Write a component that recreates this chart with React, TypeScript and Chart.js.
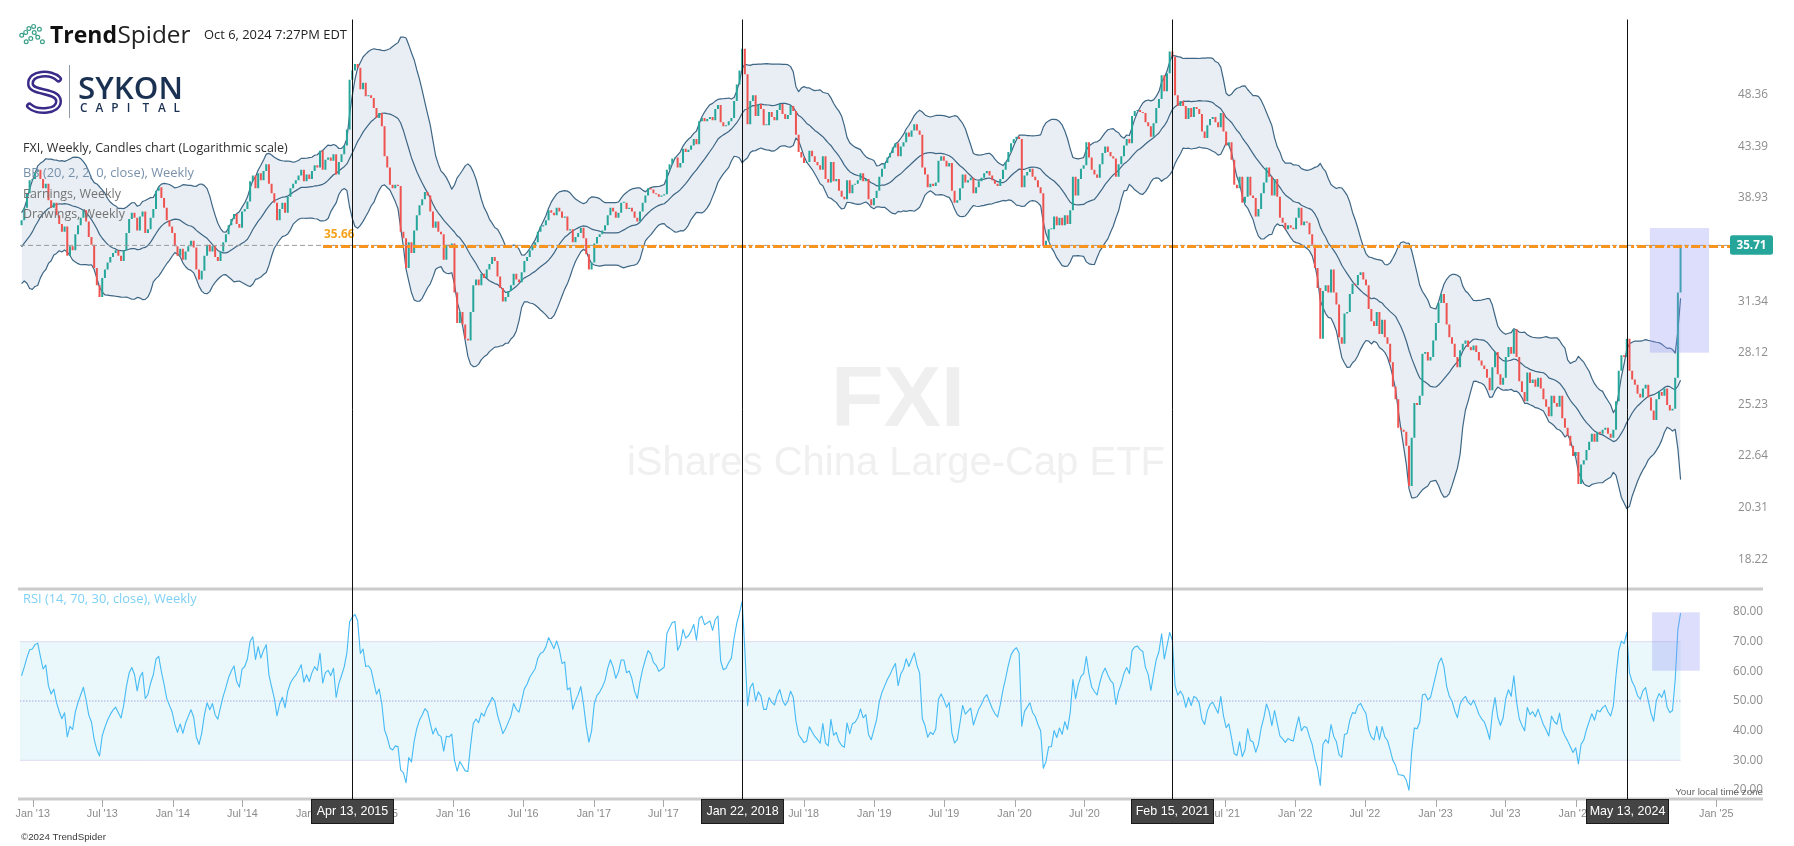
import { useEffect, useRef } from 'react';
import { Chart, registerables } from 'chart.js';

Chart.register(...registerables);

// ---------------- DATA (weekly closes of FXI) ----------------
// weeks before the first visible candle (Jun-Nov 2012), only used to seed Bollinger Bands and RSI
const warmupCloses = [33.5, 34.6, 33.8, 35.2, 34.1, 35.3, 34.0, 33.2, 34.5, 35.6, 34.4, 33.3, 34.6,
  33.4, 34.9, 36.0, 35.1, 36.6, 35.6, 37.0, 36.1, 37.3, 36.2, 35.6, 36.9, 37.2];

// first visible week: Mon Dec 3, 2012
const closes2012 = [37.6, 38.6, 39.8, 40.9, 41.0];
const closes2013 = [
  41.6, 41.8, 41.0, 40.2, 40.6, 39.2, 38.6, 39.0, 38.0, 37.3, 36.7, 37.1, 34.9,
  35.6, 35.3, 36.5, 37.2, 37.8, 38.4, 37.5, 36.3, 35.7, 34.0, 32.8, 32.0, 33.3,
  33.9, 34.4, 34.8, 35.1, 35.3, 34.9, 34.5, 35.3, 36.6, 37.7, 38.2, 37.8, 36.8,
  37.9, 38.3, 36.6, 36.9, 37.8, 38.5, 40.0, 40.3, 39.4, 38.6, 37.6, 37.1, 36.6];
const closes2014 = [
  35.6, 34.9, 35.4, 34.6, 35.2, 35.6, 36.0, 35.5, 33.9, 33.2, 33.8, 34.9, 35.7,
  35.2, 35.6, 34.8, 34.5, 35.2, 35.9, 36.5, 37.2, 37.7, 38.1, 37.3, 37.0, 38.3,
  38.5, 39.1, 40.8, 41.3, 40.2, 41.5, 40.9, 41.7, 42.3, 40.6, 39.8, 39.0, 37.6,
  38.5, 39.0, 38.2, 39.5, 40.2, 40.6, 40.9, 41.3, 41.8, 40.8, 41.4, 41.0, 41.7];
const closes2015 = [
  42.2, 42.0, 43.5, 41.8, 42.7, 42.9, 42.6, 43.2, 41.4, 42.5, 43.2, 44.0, 45.5,
  50.5, 51.5, 52.2, 51.8, 49.5, 50.2, 48.8, 48.9, 48.6, 47.6, 46.6, 47.1, 45.8,
  43.0, 42.0, 40.5, 40.2, 40.5, 40.4, 36.7, 36.2, 34.0, 35.9, 35.1, 36.8, 38.0,
  38.8, 39.3, 39.9, 39.6, 38.3, 37.0, 37.5, 36.7, 36.5, 34.6, 35.7, 35.6, 35.8];
const closes2016 = [
  32.3, 30.3, 31.0, 30.2, 29.3, 29.2, 31.0, 32.8, 33.2, 32.8, 33.6, 33.3, 33.9,
  34.3, 34.8, 34.5, 33.4, 32.6, 31.7, 32.0, 32.4, 32.8, 33.6, 33.2, 33.0, 33.7,
  34.5, 34.8, 35.3, 35.6, 35.9, 36.7, 37.1, 37.2, 37.6, 38.4, 38.2, 38.0, 38.6,
  38.3, 37.8, 37.9, 36.8, 36.9, 35.9, 36.3, 36.6, 37.0, 36.2, 35.0, 33.9, 34.4];
const closes2017 = [
  35.8, 36.3, 36.5, 36.8, 37.2, 38.0, 38.6, 38.3, 37.8, 38.2, 39.0, 39.0, 38.5,
  38.6, 38.3, 37.8, 37.5, 38.3, 39.0, 39.6, 40.2, 40.1, 39.8, 39.7, 39.5, 39.6,
  39.7, 41.8, 42.3, 42.8, 42.9, 42.0, 42.4, 43.7, 43.4, 43.6, 44.0, 44.6, 44.1,
  46.3, 46.6, 46.3, 46.5, 46.7, 46.4, 47.5, 47.9, 46.2, 45.8, 45.9, 46.3, 46.6];
const closes2018 = [
  48.3, 50.0, 51.5, 53.9, 51.1, 46.0, 48.3, 48.9, 46.8, 48.0, 47.5, 45.9, 45.9,
  47.2, 46.7, 46.4, 47.4, 48.0, 47.0, 46.5, 46.9, 47.8, 47.3, 45.0, 43.4, 42.9,
  42.4, 42.5, 43.5, 43.0, 42.5, 42.2, 41.8, 43.0, 41.0, 40.7, 42.5, 40.8, 41.0,
  40.0, 39.5, 39.3, 40.9, 39.8, 40.5, 40.6, 40.9, 41.5, 40.8, 41.0, 39.3, 38.8,
  39.4];
const closes2019 = [
  40.0, 41.2, 41.9, 42.4, 42.9, 43.3, 43.8, 44.2, 43.0, 43.9, 44.3, 45.2, 44.8,
  45.4, 46.0, 45.4, 45.0, 42.0, 41.4, 40.3, 40.6, 40.4, 40.7, 42.6, 43.0, 42.6,
  42.1, 42.4, 40.0, 39.0, 39.2, 40.2, 41.4, 40.7, 40.9, 41.1, 39.8, 40.3, 40.8,
  41.1, 41.5, 41.7, 41.3, 40.9, 40.6, 40.4, 41.0, 41.8, 42.5, 43.4, 44.2, 44.6];
const closes2020 = [
  44.8, 44.6, 40.3, 41.3, 41.6, 41.9, 41.2, 40.9, 40.3, 39.8, 35.6, 36.0, 36.9,
  36.9, 37.9, 37.2, 37.8, 37.2, 38.0, 37.3, 38.4, 41.2, 39.6, 41.0, 41.9, 42.2,
  44.3, 42.9, 41.8, 41.4, 41.1, 42.3, 43.3, 43.9, 43.4, 43.0, 42.8, 41.2, 42.3,
  43.0, 44.0, 44.6, 44.2, 46.8, 47.3, 47.4, 47.2, 47.1, 46.2, 45.8, 44.8, 46.1];
const closes2021 = [
  47.6, 48.5, 51.0, 49.3, 51.2, 53.6, 53.0, 48.9, 47.8, 48.3, 47.8, 46.5, 47.6,
  46.7, 47.7, 47.5, 47.0, 45.3, 44.7, 45.9, 46.5, 46.7, 46.2, 45.7, 47.1, 45.3,
  44.0, 44.3, 42.7, 40.5, 40.2, 41.2, 39.0, 39.5, 41.2, 39.6, 39.4, 37.9, 38.5,
  39.8, 40.7, 42.0, 41.2, 39.6, 41.0, 39.5, 37.8, 37.4, 36.9, 37.2, 37.0, 36.9];
const closes2022 = [
  37.8, 38.6, 37.2, 37.5, 37.4, 36.5, 35.7, 34.0, 32.6, 29.3, 32.4, 32.8, 32.3,
  33.9, 32.3, 31.5, 29.4, 29.0, 30.9, 31.0, 32.2, 32.9, 32.8, 33.5, 33.7, 33.2,
  32.8, 31.2, 30.4, 30.1, 31.0, 29.6, 30.5, 29.4, 29.0, 27.9, 26.5, 25.8, 24.3,
  24.2, 24.1, 23.4, 21.5, 23.8, 25.6, 25.5, 26.0, 28.4, 28.5, 28.0, 28.2, 29.2];
const closes2023 = [
  30.3, 31.6, 32.2, 31.6, 30.2, 29.4, 29.0, 28.2, 27.6, 28.6, 29.0, 29.2, 28.8,
  28.6, 28.9, 28.5, 28.0, 27.7, 27.5, 27.0, 26.3, 27.6, 28.5, 27.2, 26.6, 27.0,
  28.2, 28.8, 28.4, 29.9, 28.2, 26.8, 26.2, 25.7, 27.3, 26.7, 26.9, 26.5, 27.0,
  26.4, 25.8, 25.4, 24.9, 26.0, 25.6, 25.4, 26.0, 24.8, 24.3, 23.9, 23.4, 22.9];
const closes2024 = [
  23.1, 21.6, 22.5, 22.7, 23.2, 23.6, 24.0, 23.6, 24.1, 24.0, 24.2, 24.3, 24.0,
  23.8, 24.2, 25.7, 27.4, 28.3, 28.2, 29.3, 27.4, 26.9, 26.6, 26.1, 25.9, 26.4,
  26.6, 25.9, 25.2, 24.7, 25.8, 26.2, 26.0, 26.4, 25.5, 25.2, 25.3, 27.0, 32.3,
  35.71];

const priceAxisTicks = [48.36, 43.39, 38.93, 31.34, 28.12, 25.23, 22.64, 20.31, 18.22];
const rsiAxisTicks = [80, 70, 60, 50, 40, 30, 20];
const xTickYears = [2013, 2014, 2015, 2016, 2017, 2018, 2019, 2020, 2021, 2022, 2023, 2024, 2025];
const monthNames = ['Jan', 'Jul'];

const markerLines = [
  { label: 'Apr 13, 2015', date: [2015, 3, 13] },
  { label: 'Jan 22, 2018', date: [2018, 0, 22] },
  { label: 'Feb 15, 2021', date: [2021, 1, 15] },
  { label: 'May 13, 2024', date: [2024, 4, 13] },
];
const levelValue = 35.66;
const levelStartDate = [2015, 0, 27];
const priceBox = { from: [2024, 6, 12], to: [2024, 11, 13], top: 36.98, bottom: 28.46 };
const rsiBox = { from: [2024, 6, 18], to: [2024, 10, 19], top: 79.9, bottom: 60.2 };

// ---------------- derived series ----------------
const DAY = 86400000;
const WEEK = 7 * DAY;
const firstWeek = Date.UTC(2012, 11, 3);
const closes = [
  ...closes2012, ...closes2013, ...closes2014, ...closes2015, ...closes2016, ...closes2017,
  ...closes2018, ...closes2019, ...closes2020, ...closes2021, ...closes2022, ...closes2023, ...closes2024,
];
const dates = closes.map((_, i) => firstWeek + i * WEEK);
const series = [...warmupCloses, ...closes];
const WU = warmupCloses.length;
const opens = closes.map((_, i) => series[WU + i - 1]);
const utc = (d: number[]) => Date.UTC(d[0], d[1], d[2]);

function bollinger(period: number, mult: number) {
  const up: any[] = [], mid: any[] = [], lo: any[] = [];
  for (let i = 0; i < closes.length; i++) {
    const k = WU + i;
    const win = series.slice(Math.max(0, k - period + 1), k + 1);
    const m = win.reduce((a, b) => a + b, 0) / win.length;
    const sd = Math.sqrt(win.reduce((a, b) => a + (b - m) * (b - m), 0) / win.length);
    up.push({ x: dates[i], y: m + mult * sd });
    mid.push({ x: dates[i], y: m });
    lo.push({ x: dates[i], y: m - mult * sd });
  }
  return { up, mid, lo };
}

function rsiWilder(period: number) {
  const out: any[] = [];
  let ag = 0, al = 0;
  for (let k = 1; k < series.length; k++) {
    const ch = series[k] - series[k - 1];
    const g = Math.max(ch, 0), l = Math.max(-ch, 0);
    if (k <= period) { ag += g / period; al += l / period; }
    else { ag = (ag * (period - 1) + g) / period; al = (al * (period - 1) + l) / period; }
    const idx = k - WU;
    if (idx >= 0) out.push({ x: dates[idx], y: al === 0 ? 100 : 100 - 100 / (1 + ag / al) });
  }
  return out;
}

// ---------------- layout / style ----------------
const AREA = { left: 20, top: 19.5, right: 1763, bottom: 798.5 };
const SPLIT_Y = 589;
const T0 = Date.UTC(2013, 0, 1);
const X_MIN = T0 - 33.06 * DAY;
const X_MAX = T0 + 4504.6 * DAY;
const UP = '#26a69a';
const DOWN = '#ef5350';
const BB_LINE = '#3e6685';
const BB_FILL = 'rgba(214,224,233,0.55)';
const RSI_COLOR = '#45baf4';
const OPEN = '"Open Sans", "DejaVu Sans", sans-serif';
const NARROW = '"Liberation Sans Narrow", "Liberation Sans", sans-serif';
const LIB = '"Liberation Sans", Arial, sans-serif';

function fitFont(ctx: any, s: string, family: string, weight: string, width: number) {
  ctx.font = `${weight} 40px ${family}`;
  const w = ctx.measureText(s).width || 1;
  const size = (40 * width) / w;
  ctx.font = `${weight} ${size.toFixed(2)}px ${family}`;
  return size;
}

function put(ctx: any, s: string, x: number, y: number, color: string, align = 'left', baseline = 'middle') {
  ctx.fillStyle = color;
  ctx.textAlign = align;
  ctx.textBaseline = baseline;
  ctx.fillText(s, x, y);
}

const decor = {
  id: 'decor',
  beforeDatasetsDraw(chart: any) {
    const { ctx } = chart;
    const x = chart.scales.x, yr = chart.scales.yr;
    ctx.save();
    // watermark
    fitFont(ctx, 'FXI', LIB, '700', 134);
    put(ctx, 'FXI', 898, 426, '#efefef', 'center', 'alphabetic');
    fitFont(ctx, 'iShares China Large-Cap ETF', LIB, '400', 538);
    put(ctx, 'iShares China Large-Cap ETF', 896, 475, '#f0f0f0', 'center', 'alphabetic');
    // RSI 30-70 band
    const xEnd = x.getPixelForValue(dates[dates.length - 1]);
    const y70 = yr.getPixelForValue(70), y30 = yr.getPixelForValue(30), y50 = yr.getPixelForValue(50);
    ctx.fillStyle = '#eaf8fb';
    ctx.fillRect(AREA.left, y70, xEnd - AREA.left, y30 - y70);
    ctx.strokeStyle = '#dcdcf0';
    ctx.lineWidth = 1;
    ctx.beginPath();
    ctx.moveTo(AREA.left, y70); ctx.lineTo(xEnd, y70);
    ctx.moveTo(AREA.left, y30); ctx.lineTo(xEnd, y30);
    ctx.stroke();
    ctx.strokeStyle = 'rgba(190,186,232,0.9)';
    ctx.lineWidth = 1.5;
    ctx.setLineDash([1.5, 1.5]);
    ctx.beginPath();
    ctx.moveTo(AREA.left, y50); ctx.lineTo(xEnd, y50);
    ctx.stroke();
    ctx.setLineDash([]);
    ctx.restore();
  },
  afterDatasetsDraw(chart: any) {
    const { ctx } = chart;
    const x = chart.scales.x, y = chart.scales.y, yr = chart.scales.yr;
    ctx.save();

    // highlight boxes
    ctx.fillStyle = 'rgba(142,142,245,0.3)';
    {
      const x1 = x.getPixelForValue(utc(priceBox.from)), x2 = x.getPixelForValue(utc(priceBox.to));
      const y1 = y.getPixelForValue(priceBox.top), y2 = y.getPixelForValue(priceBox.bottom);
      ctx.fillRect(x1, y1, x2 - x1, y2 - y1);
      const a1 = x.getPixelForValue(utc(rsiBox.from)), a2 = x.getPixelForValue(utc(rsiBox.to));
      const b1 = yr.getPixelForValue(rsiBox.top), b2 = yr.getPixelForValue(rsiBox.bottom);
      ctx.fillRect(a1, b1, a2 - a1, b2 - b1);
    }

    // horizontal level
    const ly = y.getPixelForValue(levelValue);
    const badgeLeft = 1730;
    ctx.strokeStyle = '#9a9a9a';
    ctx.lineWidth = 1;
    ctx.setLineDash([5, 3]);
    ctx.beginPath(); ctx.moveTo(AREA.left, ly); ctx.lineTo(badgeLeft, ly); ctx.stroke();
    const lx = x.getPixelForValue(utc(levelStartDate));
    ctx.strokeStyle = '#f7941d';
    ctx.lineWidth = 3;
    ctx.setLineDash([9, 3, 3, 3]);
    ctx.beginPath(); ctx.moveTo(lx, ly + 1); ctx.lineTo(badgeLeft, ly + 1); ctx.stroke();
    ctx.setLineDash([]);
    fitFont(ctx, levelValue.toFixed(2), OPEN, '700', 30.5);
    put(ctx, levelValue.toFixed(2), lx + 1, ly - 11, '#f5a31c', 'left', 'middle');

    // panel separators
    ctx.strokeStyle = '#cbcbcb';
    ctx.lineWidth = 3;
    ctx.beginPath();
    ctx.moveTo(18, SPLIT_Y); ctx.lineTo(AREA.right, SPLIT_Y);
    ctx.moveTo(18, AREA.bottom + 0.5); ctx.lineTo(AREA.right, AREA.bottom + 0.5);
    ctx.stroke();

    // vertical marker lines
    ctx.strokeStyle = '#111';
    ctx.lineWidth = 1;
    for (const m of markerLines) {
      const px = Math.round(x.getPixelForValue(utc(m.date))) + 0.5;
      ctx.beginPath(); ctx.moveTo(px, AREA.top); ctx.lineTo(px, 800); ctx.stroke();
    }

    // price axis labels
    fitFont(ctx, '48.36', OPEN, '400', 30);
    for (const v of priceAxisTicks) {
      put(ctx, v.toFixed(2), 1738, y.getPixelForValue(v) - 5.5, '#8d8d8d', 'left', 'middle');
    }
    // last price badge
    const last = closes[closes.length - 1];
    const by = y.getPixelForValue(last);
    ctx.fillStyle = UP;
    ctx.beginPath();
    ctx.roundRect(1730, by - 9.5, 43, 19.5, 2.5);
    ctx.fill();
    fitFont(ctx, last.toFixed(2), OPEN, '700', 30);
    put(ctx, last.toFixed(2), 1751.5, by + 0.5, '#ffffff', 'center', 'middle');

    // RSI axis labels
    fitFont(ctx, '80.00', OPEN, '400', 30);
    for (const v of rsiAxisTicks) {
      put(ctx, v.toFixed(2), 1733, yr.getPixelForValue(v), '#8d8d8d', 'left', 'middle');
    }

    // time-zone note
    fitFont(ctx, 'Your local time zone', NARROW, '400', 88);
    put(ctx, 'Your local time zone', AREA.right, 792, '#666', 'right', 'middle');

    // x-axis ticks and labels
    fitFont(ctx, "Jan '13", NARROW, '400', 34.4);
    ctx.strokeStyle = '#a8a8a8';
    ctx.lineWidth = 1;
    for (const yy of xTickYears) {
      for (let h = 0; h < 2; h++) {
        const t = Date.UTC(yy, h * 6, 1);
        const px = x.getPixelForValue(t);
        if (px < AREA.left || px > AREA.right - 20) continue;
        ctx.beginPath(); ctx.moveTo(Math.round(px) + 0.5, 800); ctx.lineTo(Math.round(px) + 0.5, 807); ctx.stroke();
        put(ctx, `${monthNames[h]} '${String(yy).slice(2)}`, px, 814.5, '#8a8a8a', 'center', 'middle');
      }
    }
    // marker date badges
    for (const m of markerLines) {
      const px = Math.round(x.getPixelForValue(utc(m.date))) + 0.5;
      ctx.fillStyle = '#444';
      ctx.fillRect(px - 41, 799.5, 82, 24);
      ctx.strokeStyle = '#1a1a1a';
      ctx.lineWidth = 1;
      ctx.strokeRect(px - 41, 799.5, 82, 24);
      fitFont(ctx, 'Apr 13, 2015', NARROW, '400', 71.5);
      put(ctx, m.label, px, 812, '#ffffff', 'center', 'middle');
    }

    // copyright
    fitFont(ctx, '\u00a92024 TrendSpider', NARROW, '400', 85);
    put(ctx, '\u00a92024 TrendSpider', 21, 837, '#3a3a3a', 'left', 'middle');

    // RSI title
    fitFont(ctx, 'RSI (14, 70, 30, close), Weekly', OPEN, '400', 174);
    put(ctx, 'RSI (14, 70, 30, close), Weekly', 23, 599, '#7fd0f6', 'left', 'middle');

    // legend lines
    fitFont(ctx, 'FXI, Weekly, Candles chart (Logarithmic scale)', OPEN, '400', 265);
    put(ctx, 'FXI, Weekly, Candles chart (Logarithmic scale)', 23, 148, '#2e2e2e', 'left', 'middle');
    fitFont(ctx, 'BB (20, 2, 2, 0, close), Weekly', OPEN, '400', 171);
    put(ctx, 'BB (20, 2, 2, 0, close), Weekly', 23, 173.5, '#7891aa', 'left', 'middle');
    fitFont(ctx, 'Earnings, Weekly', OPEN, '400', 98);
    put(ctx, 'Earnings, Weekly', 23, 194, '#747474', 'left', 'middle');
    fitFont(ctx, 'Drawings, Weekly', OPEN, '400', 102);
    put(ctx, 'Drawings, Weekly', 23, 214, '#747474', 'left', 'middle');

    // header: TrendSpider logo
    ctx.strokeStyle = '#3aa088';
    ctx.lineWidth = 1.2;
    const dots = [[21.7, 35.3], [25.7, 32.4], [28.9, 28.6], [33.6, 26.4], [34.2, 32.6], [37.8, 37.2],
      [42.4, 41.8], [39.4, 29.2], [30.8, 38.6], [26.2, 41.8]];
    for (const d of dots) { ctx.beginPath(); ctx.arc(d[0], d[1], 1.9, 0, Math.PI * 2); ctx.stroke(); }
    ctx.beginPath();
    ctx.moveTo(23.3, 34.2); ctx.lineTo(24.2, 33.5);
    ctx.moveTo(35.3, 33.8); ctx.lineTo(36.6, 35.8);
    ctx.stroke();
    fitFont(ctx, 'Trend', OPEN, '700', 67);
    put(ctx, 'Trend', 50, 42.5, '#111', 'left', 'alphabetic');
    fitFont(ctx, 'Spider', OPEN, '400', 73);
    put(ctx, 'Spider', 117.5, 42.5, '#222', 'left', 'alphabetic');
    fitFont(ctx, 'Oct 6, 2024 7:27PM EDT', OPEN, '400', 143);
    put(ctx, 'Oct 6, 2024 7:27PM EDT', 204, 35.5, '#222', 'left', 'middle');

    // SYKON CAPITAL logo
    ctx.lineCap = 'round';
    ctx.strokeStyle = '#3b2b88';
    ctx.lineWidth = 7;
    const sPath = () => {
      ctx.beginPath();
      ctx.moveTo(58.5, 79);
      ctx.bezierCurveTo(51, 71.5, 30, 72, 30.5, 84);
      ctx.bezierCurveTo(31, 94, 58, 89.5, 58.5, 101);
      ctx.bezierCurveTo(59, 112, 37, 113, 29.5, 106);
      ctx.stroke();
    };
    sPath();
    ctx.strokeStyle = '#ffffff';
    ctx.lineWidth = 2;
    sPath();
    ctx.lineCap = 'butt';
    ctx.strokeStyle = '#8e9aa8';
    ctx.lineWidth = 1;
    ctx.beginPath(); ctx.moveTo(69.5, 65); ctx.lineTo(69.5, 118); ctx.stroke();
    fitFont(ctx, 'SYKON', OPEN, '600', 105);
    put(ctx, 'SYKON', 78, 98.5, '#1b3152', 'left', 'alphabetic');
    fitFont(ctx, 'C', OPEN, '600', 7.5);
    const cap = 'CAPITAL';
    for (let j = 0; j < cap.length; j++) {
      put(ctx, cap[j], 80 + j * 15.6, 112, '#1b3152', 'left', 'alphabetic');
    }

    ctx.restore();
  },
};

export default function App() {
  const ref = useRef<HTMLCanvasElement>(null);
  useEffect(() => {
    const canvas = ref.current;
    if (!canvas) return;
    const bb = bollinger(20, 2);
    const rsi = rsiWilder(14);
    const candleData = closes.map((c, i) => ({ x: dates[i], y: [opens[i], c] }));
    const candleColors = closes.map((c, i) => (c >= opens[i] ? UP : DOWN));
    const lineBase = { pointRadius: 0, tension: 0, borderJoinStyle: 'round' };
    const chart = new Chart(canvas, {
      type: 'line',
      data: {
        datasets: [
          {
            type: 'bar', label: 'FXI', data: candleData, backgroundColor: candleColors,
            borderWidth: 0, barThickness: 2, inflateAmount: 0, minBarLength: 1,
            xAxisID: 'x', yAxisID: 'y', order: 0,
          } as any,
          { ...lineBase, label: 'BB upper', data: bb.up, borderColor: BB_LINE, borderWidth: 1.2,
            backgroundColor: BB_FILL, fill: '+1', xAxisID: 'x', yAxisID: 'y', order: 3 } as any,
          { ...lineBase, label: 'BB lower', data: bb.lo, borderColor: BB_LINE, borderWidth: 1.2,
            fill: false, xAxisID: 'x', yAxisID: 'y', order: 2 } as any,
          { ...lineBase, label: 'BB middle', data: bb.mid, borderColor: BB_LINE, borderWidth: 1.2,
            fill: false, xAxisID: 'x', yAxisID: 'y', order: 1 } as any,
          { ...lineBase, label: 'RSI', data: rsi, borderColor: RSI_COLOR, borderWidth: 1.1,
            fill: false, xAxisID: 'x', yAxisID: 'yr', order: 1 } as any,
        ],
      },
      options: {
        responsive: false,
        animation: false,
        devicePixelRatio: 1,
        events: [],
        layout: { padding: { left: AREA.left, top: AREA.top, right: 1794 - AREA.right, bottom: 846 - AREA.bottom } },
        scales: {
          x: { type: 'linear', min: X_MIN, max: X_MAX, offset: false, display: false },
          y: { type: 'logarithmic', min: 11.15, max: 57.33, display: false },
          yr: { type: 'linear', min: 17.12, max: 279.8, display: false },
        },
        plugins: { legend: { display: false }, tooltip: { enabled: false }, title: { display: false } },
      } as any,
      plugins: [decor as any],
    });
    return () => chart.destroy();
  }, []);
  return (
    <div style={{ position: 'fixed', left: 0, top: 0, width: 1794, height: 846, background: '#ffffff' }}>
      <canvas ref={ref} width={1794} height={846} style={{ width: 1794, height: 846, display: 'block' }} />
    </div>
  );
}
